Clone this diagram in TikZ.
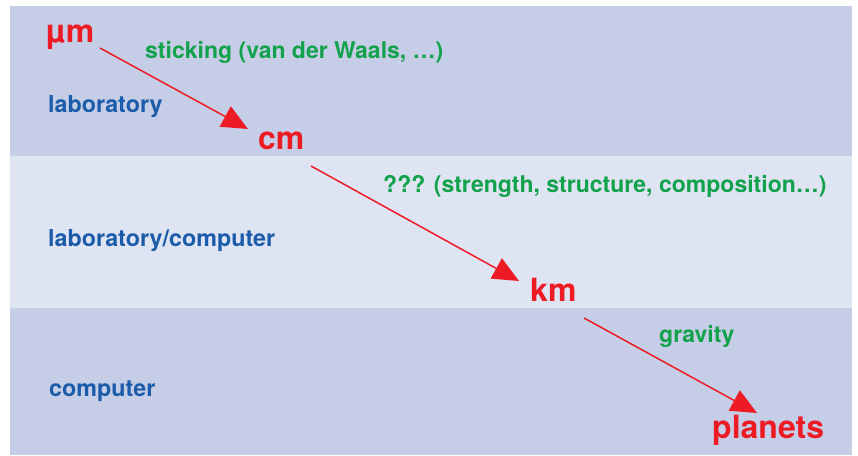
\documentclass[tikz,border=0pt]{standalone}
\usepackage{fontspec}
\setmainfont{TeX Gyre Heros}
\usetikzlibrary{arrows.meta}

\definecolor{banddark}{HTML}{C6CDE7}
\definecolor{bandlight}{HTML}{DFE4F3}
\definecolor{scalered}{HTML}{ED1C24}
\definecolor{forcegreen}{HTML}{12A24B}
\definecolor{toolblue}{HTML}{1A5CAA}

\tikzset{
  scale label/.style={anchor=base west, inner sep=0pt, text=scalered,
    font=\fontsize{32}{36}\selectfont\bfseries},
  force label/.style={anchor=base west, inner sep=0pt, text=forcegreen,
    font=\fontsize{23}{27}\selectfont\bfseries},
  tool label/.style={anchor=base west, inner sep=0pt, text=toolblue,
    font=\fontsize{23.3}{27}\selectfont\bfseries},
  growth/.style={draw=scalered, line width=1.5pt,
    -{Triangle[length=26pt,width=23pt]}},
}

\begin{document}
\begin{tikzpicture}[x=1pt,y=-1pt]
  \useasboundingbox (0,0) rectangle (858,455);

  % three horizontal bands
  \fill[banddark]  (10,6)   rectangle (852,156);
  \fill[bandlight] (10,156) rectangle (852,308);
  \fill[banddark]  (10,308) rectangle (852,455);

  % size scales
  \node[scale label] (um) at (46,42) {µm};
  \node[scale label] (cm) at (258,149) {cm};
  \node[scale label] (km) at (530,301) {km};
  \node[scale label] (planets) at (712,438) {planets};

  % growth mechanisms
  \node[force label] (stick) at (145,58) {sticking (van der Waals, …)};
  \node[force label] (unknown) at (383,192) {??? (strength, structure, composition…)};
  \node[force label] (grav) at (659,342) {gravity};

  % where each stage is studied
  \node[tool label] (lab) at (48,112) {laboratory};
  \node[tool label] (labcomp) at (48,246) {laboratory/computer};
  \node[tool label] (comp) at (49,396) {computer};

  % arrow end points
  \coordinate (a1) at (100,48);
  \coordinate (b1) at (248,129);
  \coordinate (a2) at (311,166);
  \coordinate (b2) at (519,281);
  \coordinate (a3) at (584,318);
  \coordinate (b3) at (757,413);

  \draw[growth] (a1) -- (b1);
  \draw[growth] (a2) -- (b2);
  \draw[growth] (a3) -- (b3);
\end{tikzpicture}
\end{document}
